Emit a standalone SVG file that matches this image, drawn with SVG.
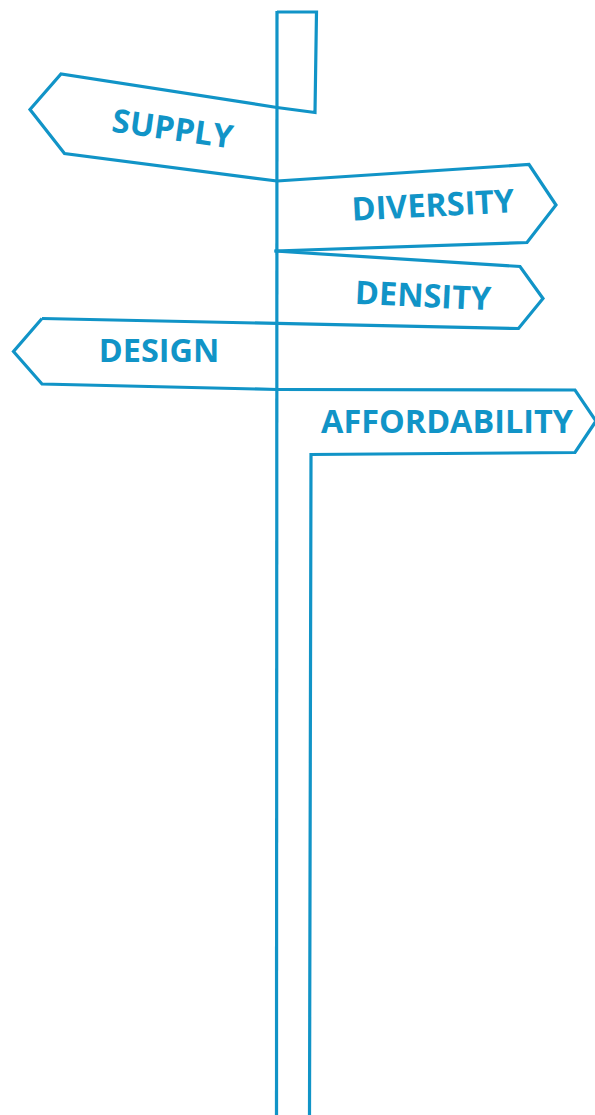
<svg xmlns="http://www.w3.org/2000/svg" width="595" height="1115" viewBox="0 0 595 1115">
  <style>
    .ln { fill: none; stroke: #1194c7; stroke-width: 3.2; stroke-linejoin: miter; stroke-linecap: butt; }
    .lbl { font-family: "Open Sans", "Liberation Sans", sans-serif; font-weight: 700; font-size: 32.4px; fill: #1194c7; text-anchor: middle; }
  </style>
  <rect width="595" height="1115" fill="#ffffff"/>
  <g id="post">
    <path class="ln" d="M277,11 L276.5,1115"/>
    <path class="ln" d="M277,12 H316.5 L315,112.5 L277,107.5"/>
  </g>
  <g id="sign-supply">
    <path class="ln" d="M277,107.5 L61,74 L30,109.5 L64.5,153.5 L277,181"/>
    <text class="lbl" transform="translate(171,140) rotate(8)" x="0" y="0">SUPPLY</text>
  </g>
  <g id="sign-diversity">
    <path class="ln" d="M277,181 L529,164.5 L556,205 L527,242.5 L274.5,251"/>
    <text class="lbl" transform="translate(433.5,216.5) rotate(-3)" x="0" y="0">DIVERSITY</text>
  </g>
  <g id="sign-density">
    <path class="ln" d="M274.5,251 L520,266.5 L543,298.5 L518.5,328.5 L42,318.5"/>
    <text class="lbl" transform="translate(422.5,307) rotate(2.8)" x="0" y="0">DENSITY</text>
  </g>
  <g id="sign-design">
    <path class="ln" d="M42,318.5 L13.5,351.5 L42,384 L277,389.5"/>
    <text class="lbl" x="159" y="362">DESIGN</text>
  </g>
  <g id="sign-affordability">
    <path class="ln" d="M277,389.5 L575,390 L596,421 L575,452.5 L311,454.5 L309.5,1115"/>
    <text class="lbl" x="447" y="433">AFFORDABILITY</text>
  </g>
</svg>
